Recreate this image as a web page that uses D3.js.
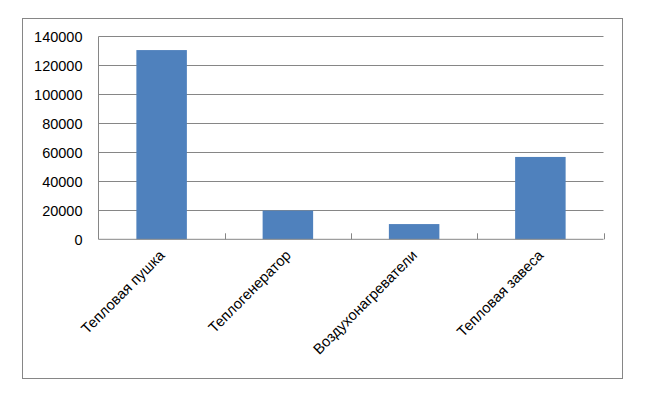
<!DOCTYPE html>
<html><head><meta charset="utf-8">
<script src="https://cdn.jsdelivr.net/npm/d3@7/dist/d3.min.js"></script>
<style>body{margin:0;background:#fff}svg{display:block}</style>
</head><body>
<script>
const categories = ["Тепловая пушка", "Теплогенератор", "Воздухонагреватели", "Тепловая завеса"];
const values = [130500, 19800, 10500, 56800];
const yTicks = [0, 20000, 40000, 60000, 80000, 100000, 120000, 140000];

const W = 654, H = 399;
const svg = d3.select("body").append("svg").attr("width", W).attr("height", H);
const gray = "#868686";
const font = "'Liberation Sans', Arial, sans-serif";

svg.append("rect").attr("x", 22.5).attr("y", 18.5).attr("width", 600).attr("height", 360)
  .attr("fill", "#fff").attr("stroke", gray).attr("stroke-width", 1);

const x0 = 98.5, x1 = 603.5, yTop = 36.3, yBot = 239.3;
const x = d3.scaleBand().domain(categories).range([x0, x1]).paddingInner(0.6).paddingOuter(0.3);
const y = d3.scaleLinear().domain([0, 140000]).range([yBot, yTop]);

// gridlines
svg.append("g").selectAll("line").data(yTicks.filter(d => d > 0)).join("line")
  .attr("x1", x0).attr("x2", x1)
  .attr("y1", d => Math.round(y(d)) + 0.5).attr("y2", d => Math.round(y(d)) + 0.5)
  .attr("stroke", gray).attr("stroke-width", 1);

// bars
svg.append("g").selectAll("rect").data(values).join("rect")
  .attr("x", (d, i) => x(categories[i]))
  .attr("width", x.bandwidth())
  .attr("y", d => y(d))
  .attr("height", d => yBot - y(d))
  .attr("fill", "#4F81BD");

// y axis
const yAxis = svg.append("g").attr("transform", `translate(${x0},0)`)
  .call(d3.axisLeft(y).tickValues(yTicks).tickSize(0).tickPadding(16).tickFormat(d3.format("d")));
yAxis.select(".domain").attr("stroke", gray).attr("d", `M0,${Math.round(yTop)+0.5}V${yBot}`);
yAxis.selectAll("text").attr("font-family", font).attr("font-size", "14.5px").attr("fill", "#000")
  .attr("dy", "0.35em");

// x axis line and ticks
const step = (x1 - x0) / categories.length;
svg.append("line").attr("x1", x0).attr("x2", x1).attr("y1", yBot).attr("y2", yBot)
  .attr("stroke", gray).attr("stroke-width", 1);
svg.append("g").selectAll("line").data(d3.range(1, categories.length + 1)).join("line")
  .attr("x1", d => Math.round(x0 + d * step) + 0.5).attr("x2", d => Math.round(x0 + d * step) + 0.5)
  .attr("y1", yBot - 6).attr("y2", yBot)
  .attr("stroke", gray).attr("stroke-width", 1);

// x labels
svg.append("g").selectAll("text").data(categories).join("text")
  .attr("transform", d => `translate(${x(d) + x.bandwidth() / 2 + 4},${yBot + 17}) rotate(-45)`)
  .attr("text-anchor", "end")
  .attr("font-family", font).attr("font-size", "14.7px").attr("fill", "#000")
  .text(d => d);
</script>
</body></html>
